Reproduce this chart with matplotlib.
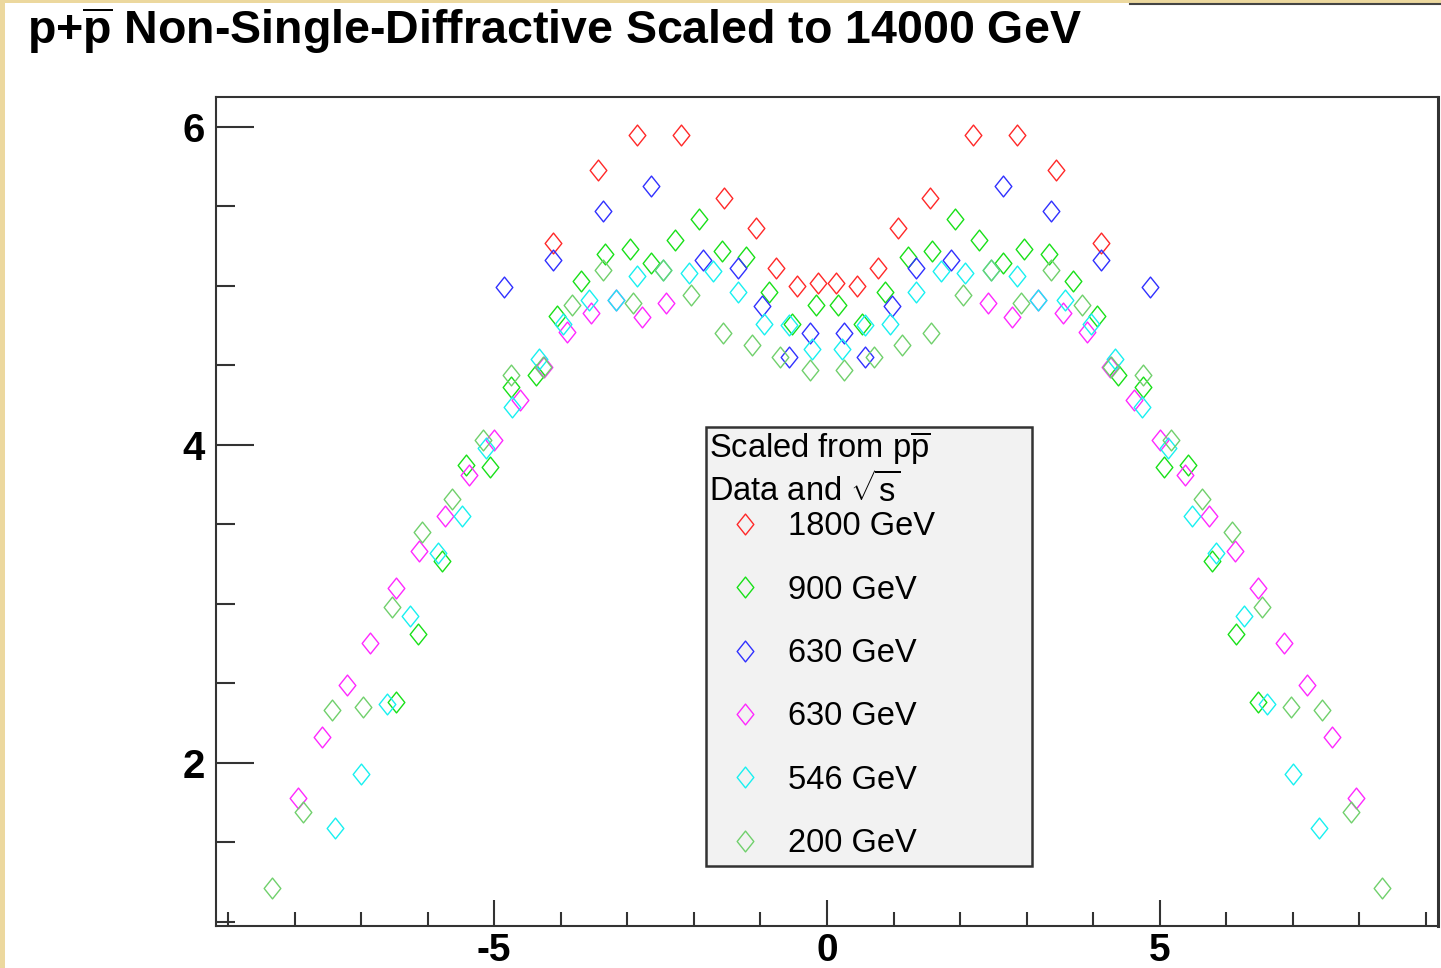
import numpy as np
import matplotlib
matplotlib.use("Agg")
import matplotlib.pyplot as plt
from matplotlib.path import Path
from matplotlib.patches import Rectangle
from matplotlib.lines import Line2D
from matplotlib.ticker import MultipleLocator

plt.rcParams['font.family'] = ['Liberation Sans', 'DejaVu Sans']
plt.rcParams['mathtext.fontset'] = 'custom'
plt.rcParams['mathtext.rm'] = 'Liberation Sans'
plt.rcParams['mathtext.bf'] = 'Liberation Sans:bold'
plt.rcParams['axes.unicode_minus'] = False

# pseudorapidity / dN/deta
eta_1800 = [-4.11, -3.44, -2.85, -2.19, -1.55, -1.06, -0.77, -0.45, -0.14,
            0.14, 0.45, 0.77, 1.06, 1.55, 2.19, 2.85, 3.44, 4.11]
dn_1800 = [5.27, 5.73, 5.95, 5.95, 5.55, 5.36, 5.11, 5.00, 5.02,
           5.02, 5.00, 5.11, 5.36, 5.55, 5.95, 5.95, 5.73, 5.27]

eta_900 = [-6.47, -6.15, -5.79, -5.43, -5.06, -4.75, -4.37, -4.05, -3.69, -3.34,
           -2.96, -2.64, -2.28, -1.93, -1.58, -1.22, -0.87, -0.53, -0.17,
           0.17, 0.53, 0.87, 1.22, 1.58, 1.93, 2.28, 2.64, 2.96,
           3.34, 3.69, 4.05, 4.37, 4.75, 5.06, 5.43, 5.79, 6.15, 6.47]
dn_900 = [2.38, 2.81, 3.27, 3.87, 3.86, 4.36, 4.44, 4.81, 5.03, 5.20,
          5.23, 5.14, 5.29, 5.42, 5.22, 5.18, 4.96, 4.76, 4.88,
          4.88, 4.76, 4.96, 5.18, 5.22, 5.42, 5.29, 5.14, 5.23,
          5.20, 5.03, 4.81, 4.44, 4.36, 3.86, 3.87, 3.27, 2.81, 2.38]

eta_630a = [-4.85, -4.11, -3.37, -2.64, -1.86, -1.33, -0.98, -0.57, -0.26,
            0.26, 0.57, 0.98, 1.33, 1.86, 2.64, 3.37, 4.11, 4.85]
dn_630a = [4.99, 5.16, 5.47, 5.63, 5.16, 5.11, 4.87, 4.55, 4.70,
           4.70, 4.55, 4.87, 5.11, 5.16, 5.63, 5.47, 5.16, 4.99]

eta_630b = [-7.95, -7.59, -7.21, -6.86, -6.48, -6.13, -5.74, -5.38, -5.00,
            -4.61, -4.25, -3.90, -3.55, -3.17, -2.78, -2.42,
            2.42, 2.78, 3.17, 3.55, 3.90, 4.25, 4.61,
            5.00, 5.38, 5.74, 6.13, 6.48, 6.86, 7.21, 7.59, 7.95]
dn_630b = [1.78, 2.16, 2.49, 2.75, 3.10, 3.33, 3.55, 3.81, 4.03,
           4.28, 4.49, 4.71, 4.83, 4.91, 4.80, 4.89,
           4.89, 4.80, 4.91, 4.83, 4.71, 4.49, 4.28,
           4.03, 3.81, 3.55, 3.33, 3.10, 2.75, 2.49, 2.16, 1.78]

eta_546 = [-7.39, -7.00, -6.61, -6.26, -5.85, -5.49, -5.12, -4.73, -4.32, -3.97,
           -3.58, -3.17, -2.85, -2.47, -2.07, -1.72, -1.33, -0.95, -0.57, -0.22,
           0.22, 0.57, 0.95, 1.33, 1.72, 2.07, 2.47, 2.85, 3.17, 3.58,
           3.97, 4.32, 4.73, 5.12, 5.49, 5.85, 6.26, 6.61, 7.00, 7.39]
dn_546 = [1.59, 1.93, 2.37, 2.92, 3.32, 3.55, 3.98, 4.24, 4.54, 4.76,
          4.91, 4.91, 5.06, 5.10, 5.08, 5.09, 4.96, 4.76, 4.75, 4.60,
          4.60, 4.75, 4.76, 4.96, 5.09, 5.08, 5.10, 5.06, 4.91, 4.91,
          4.76, 4.54, 4.24, 3.98, 3.55, 3.32, 2.92, 2.37, 1.93, 1.59]

eta_200 = [-8.34, -7.88, -7.43, -6.97, -6.54, -6.09, -5.63, -5.17, -4.75, -4.26,
           -3.83, -3.37, -2.92, -2.47, -2.04, -1.57, -1.12, -0.70, -0.25,
           0.25, 0.70, 1.12, 1.57, 2.04, 2.47, 2.92, 3.37, 3.83,
           4.26, 4.75, 5.17, 5.63, 6.09, 6.54, 6.97, 7.43, 7.88, 8.34]
dn_200 = [1.21, 1.69, 2.33, 2.35, 2.98, 3.45, 3.66, 4.03, 4.44, 4.49,
          4.88, 5.10, 4.89, 5.10, 4.94, 4.70, 4.63, 4.55, 4.47,
          4.47, 4.55, 4.63, 4.70, 4.94, 5.10, 4.89, 5.10, 4.88,
          4.49, 4.44, 4.03, 3.66, 3.45, 2.98, 2.35, 2.33, 1.69, 1.21]

series = [
    ("1800 GeV", eta_1800, dn_1800, "#ff2828"),
    ("900 GeV", eta_900, dn_900, "#18e018"),
    ("630 GeV", eta_630a, dn_630a, "#3030ff"),
    ("630 GeV", eta_630b, dn_630b, "#ff28ff"),
    ("546 GeV", eta_546, dn_546, "#18f0f0"),
    ("200 GeV", eta_200, dn_200, "#70d06c"),
]

# open diamond like ROOT marker 27
diamond = Path([(0, 1), (0.8, 0), (0, -1), (-0.8, 0), (0, 1)],
               [Path.MOVETO, Path.LINETO, Path.LINETO, Path.LINETO, Path.CLOSEPOLY])

W, H = 1441, 968
fig = plt.figure(figsize=(W / 100, H / 100), dpi=100)
fig.patch.set_facecolor("#ecd89e")
fig.patches.append(Rectangle((5 / W, 0), 1, 1 - 3 / H, transform=fig.transFigure,
                             facecolor="white", edgecolor="none", zorder=-10))
fig.lines.append(Line2D([1130 / W, 1], [1 - 3.5 / H, 1 - 3.5 / H], transform=fig.transFigure,
                        color="#444444", lw=1.5))

ax = fig.add_axes([216 / W, 1 - 926 / H, (1438 - 216) / W, (926 - 97) / H])

for lab, x, y, c in series:
    ax.plot(x, y, linestyle="none", marker=diamond, markersize=15,
            markerfacecolor="none", markeredgecolor=c, markeredgewidth=1.0, label=lab)

ax.set_xlim(-9.18, 9.18)
ax.set_ylim(0.972, 6.187)
ax.set_xticks([-5, 0, 5])
ax.set_yticks([2, 4, 6])
ax.xaxis.set_minor_locator(MultipleLocator(1))
ax.yaxis.set_minor_locator(MultipleLocator(0.5))

tc = "#333333"
ax.tick_params(axis="y", which="major", direction="in", length=27.4, width=1.5, color=tc, pad=8)
ax.tick_params(axis="y", which="minor", direction="in", length=13.7, width=1.5, color=tc)
ax.tick_params(axis="x", which="major", direction="in", length=18.7, width=1.5, color=tc, pad=5)
ax.tick_params(axis="x", which="minor", direction="in", length=10, width=1.5, color=tc)
for t in ax.get_yticklabels():
    t.set_fontsize(29)
    t.set_fontweight("bold")
for t in ax.get_xticklabels():
    t.set_fontsize(28)
    t.set_fontweight("bold")
for s in ax.spines.values():
    s.set_color(tc)
    s.set_linewidth(1.5)
ax.spines["right"].set_linewidth(2.2)

fig.text(27 / W, 1 - 45 / H,
         r"p+$\overline{\mathbf{p}}$ Non-Single-Diffractive Scaled to 14000 GeV",
         fontsize=33.5, fontweight="bold", ha="left", va="baseline")

leg = ax.legend(loc="upper left", bbox_to_anchor=(0.401, 0.0676, 0.2668, 0.5343),
                mode="expand", borderaxespad=0,
                title="Scaled from p$\\overline{\\mathrm{p}}$\nData and $\\sqrt{\\mathrm{s}}$",
                title_fontsize=23.5, fontsize=23.5, alignment="left",
                fancybox=False, framealpha=1, facecolor="#f2f2f2", edgecolor="#333333",
                borderpad=0.08, labelspacing=0.99, handlelength=1.96, handletextpad=0.34)
leg.get_frame().set_linewidth(1.8)
# ROOT puts the entries right under the header, a bit indented
leg._legend_handle_box.pad = 3
leg._legend_box.sep = -1

fig.savefig("out.png", dpi=100, facecolor=fig.get_facecolor())
